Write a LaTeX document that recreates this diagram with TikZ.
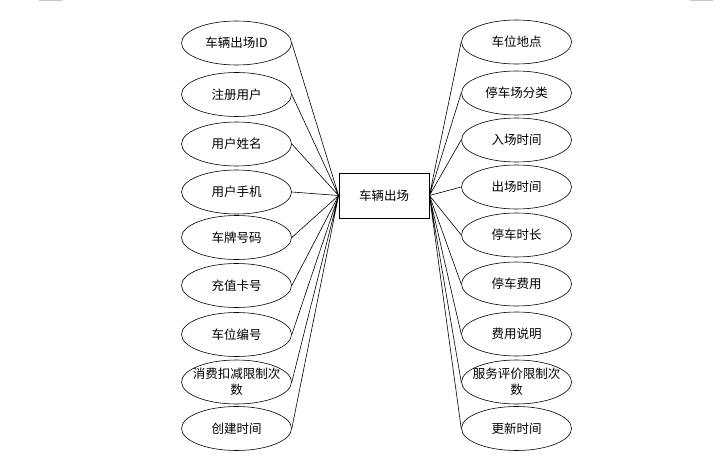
\documentclass[tikz,border=0pt]{standalone}
\usepackage{fontspec}
\newfontfamily\cjk{Noto Sans CJK SC}
\tikzset{
  attr/.style={draw, ellipse, minimum width=110pt, minimum height=44pt, inner sep=0pt, align=center, font=\cjk\fontsize{12.5}{16}\selectfont, line width=0.6pt},
  attrwide/.style={attr, inner xsep=-25pt, inner ysep=-4pt},
  entity/.style={draw, rectangle, minimum width=90pt, minimum height=45pt, font=\cjk\fontsize{12.5}{16}\selectfont, line width=0.8pt},
  link/.style={line width=0.6pt}
}
\usetikzlibrary{shapes.geometric}
\begin{document}
\begin{tikzpicture}[x=1pt,y=-1pt]
\useasboundingbox (0,0) rectangle (720,476);
\fill [gray!45] (39,0) rectangle (62,1) (690,0) rectangle (713,1);
\node [entity] (main) at (384,195.5) {车辆出场};
\node [attr] (l1) at (236.5,43) {车辆出场ID};
\node [attr] (l2) at (236.5,94.5) {注册用户};
\node [attr] (l3) at (236.5,144) {用户姓名};
\node [attr] (l4) at (236.5,192) {用户手机};
\node [attr] (l5) at (236.5,237.5) {车牌号码};
\node [attr] (l6) at (236.5,285.5) {充值卡号};
\node [attr] (l7) at (236.5,334.5) {车位编号};
\node [attrwide] (l8) at (236.5,382) {消费扣减限制次\\数};
\node [attr] (l9) at (236.5,428.5) {创建时间};
\node [attr] (r1) at (516.5,42) {车位地点};
\node [attr] (r2) at (516.5,93) {停车场分类};
\node [attr] (r3) at (516.5,140) {入场时间};
\node [attr] (r4) at (516.5,187) {出场时间};
\node [attr] (r5) at (516.5,235) {停车时长};
\node [attr] (r6) at (516.5,284) {停车费用};
\node [attr] (r7) at (516.5,334) {费用说明};
\node [attrwide] (r8) at (516.5,382) {服务评价限制次\\数};
\node [attr] (r9) at (516.5,428.5) {更新时间};
\draw [link] (l1.east)--(main.west) (l2.east)--(main.west) (l3.east)--(main.west);
\draw [link] (l4.east)--(main.west) (l5.east)--(main.west) (l6.east)--(main.west);
\draw [link] (l7.east)--(main.west) (l8.east)--(main.west) (l9.east)--(main.west);
\draw [link] (r1.west)--(main.east) (r2.west)--(main.east) (r3.west)--(main.east);
\draw [link] (r4.west)--(main.east) (r5.west)--(main.east) (r6.west)--(main.east);
\draw [link] (r7.west)--(main.east) (r8.west)--(main.east) (r9.west)--(main.east);
\end{tikzpicture}
\end{document}
